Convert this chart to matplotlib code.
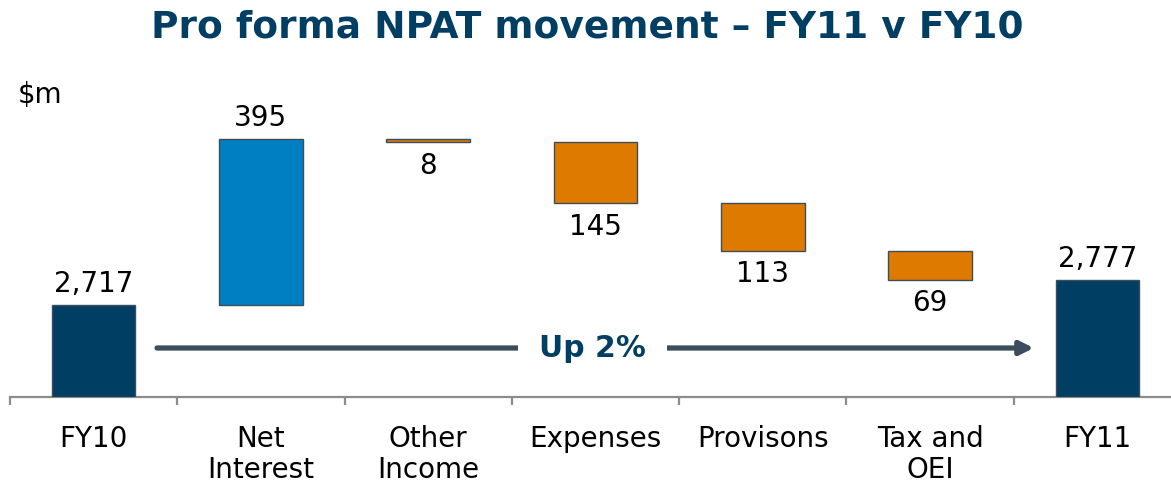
import matplotlib
matplotlib.use("Agg")
import matplotlib.pyplot as plt
import numpy as np

# Waterfall data ($m)
categories = ["FY10", "Net\nInterest", "Other\nIncome", "Expenses", "Provisons", "Tax and\nOEI", "FY11"]
values = [2717, 395, -8, -145, -113, -69, 2777]
kinds = ["total", "up", "down", "down", "down", "down", "total"]
value_labels = ["2,717", "395", "8", "145", "113", "69", "2,777"]

NAVY = "#003F63"
BLUE = "#0080C2"
ORANGE = "#DF7A00"
EDGE = "#3C4E5E"
AXIS_GREY = "#8C8C8C"

Y_LOW = 2498
Y_HIGH = Y_LOW + 944.6
FS = 20

fig = plt.figure(figsize=(11.71, 4.83), dpi=100)
ax = fig.add_axes([10 / 1171, 86 / 483, 1161 / 1171, 397 / 483])
ax.set_xlim(-0.5, 6.44)
ax.set_ylim(Y_LOW, Y_HIGH)

x = np.arange(len(categories))
running = 0
for i, (v, k, lab) in enumerate(zip(values, kinds, value_labels)):
    if k == "total":
        bottom, top = Y_LOW, v
        running = v
        color = NAVY
    else:
        start = running
        running = running + v
        bottom, top = min(start, running), max(start, running)
        color = BLUE if k == "up" else ORANGE
    ax.bar(x[i], top - bottom, bottom=bottom, width=0.5, color=color,
           edgecolor=EDGE, linewidth=1.0, zorder=3)
    if k == "down":
        ax.annotate(lab, (x[i], bottom), xytext=(0, -7), textcoords="offset points",
                    ha="center", va="top", fontsize=FS, color="black")
    else:
        ax.annotate(lab, (x[i], top), xytext=(0, 5), textcoords="offset points",
                    ha="center", va="bottom", fontsize=FS, color="black")

# Axis styling
for s in ["top", "right", "left"]:
    ax.spines[s].set_visible(False)
ax.spines["bottom"].set_color(AXIS_GREY)
ax.spines["bottom"].set_linewidth(1.6)
ax.set_yticks([])
ax.set_xticks(x)
ax.set_xticklabels(categories, fontsize=FS, linespacing=1.15)
ax.tick_params(axis="x", which="major", length=0, pad=20)
ax.set_xticks(np.arange(-0.5, 6, 1.0), minor=True)
ax.tick_params(axis="x", which="minor", length=6, width=1.6, color=AXIS_GREY)

# Growth arrow
y_arrow = Y_LOW + 49 / 0.4203
ax.annotate("", xy=(5.62, y_arrow), xytext=(0.379, y_arrow),
            arrowprops=dict(arrowstyle="-|>,head_length=0.8,head_width=0.4",
                            color=EDGE, lw=3.8, shrinkA=0, shrinkB=0))
ax.text(2.98, y_arrow, "Up 2%", ha="center", va="center", fontsize=21.5,
        fontweight="bold", color=NAVY,
        bbox=dict(boxstyle="square,pad=0.7", fc="white", ec="none"), zorder=5)

fig.text(18 / 1171, 1 - 95 / 483, "$m", ha="left", va="center", fontsize=FS, color="black")
fig.text(587 / 1171, 1 - 27 / 483, "Pro forma NPAT movement \u2013 FY11 v FY10",
         ha="center", va="center", fontsize=27, fontweight="bold", color=NAVY)

fig.savefig("out.png", dpi=100)
